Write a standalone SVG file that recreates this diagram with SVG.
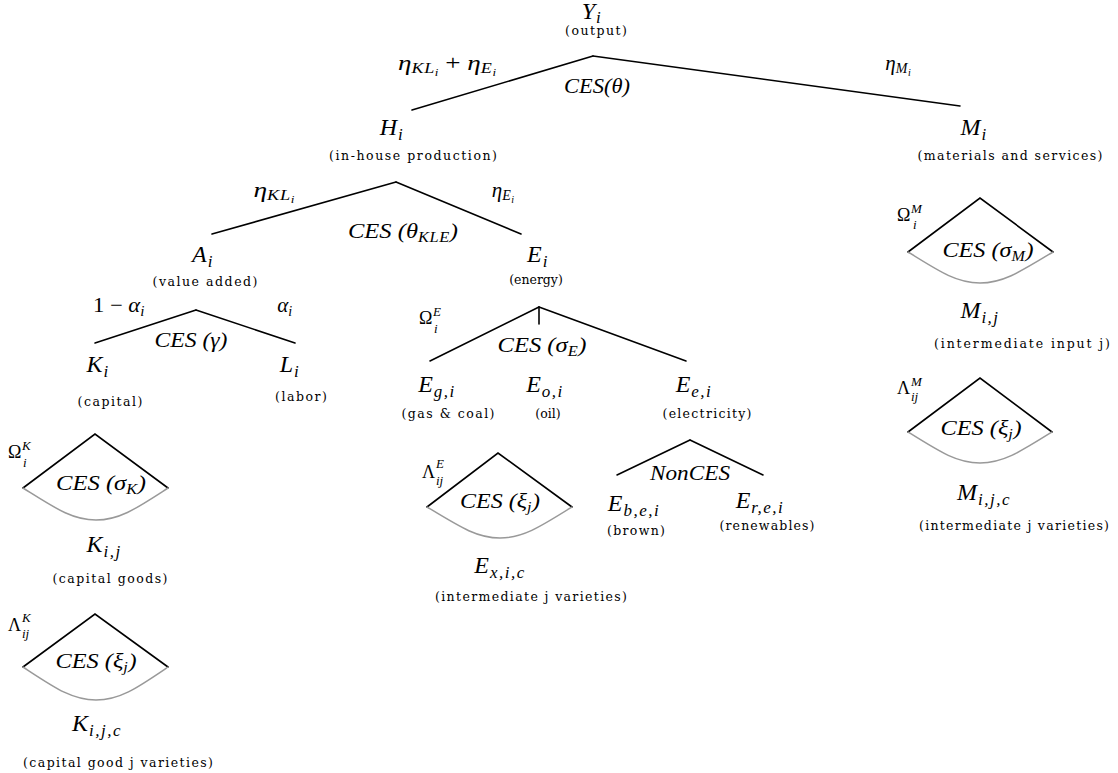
<svg xmlns="http://www.w3.org/2000/svg" width="1118" height="773" viewBox="0 0 1118 773">
<style>
.bg{fill:#fff}
.ln{stroke:#000;stroke-width:1.6;fill:none;stroke-linecap:round}
.cv{stroke:#999;stroke-width:1.5;fill:none}
text{fill:#000}
.m{font-family:"Liberation Serif","DejaVu Serif",serif;font-style:italic}
.n{font-size:24px}
.l{font-size:21px}
.s1{font-size:17px;letter-spacing:1.5px}
.s2{font-size:14px;letter-spacing:0.5px}
.s3{font-size:10px}
.up{font-style:normal}
.t{font-family:"DejaVu Serif","Liberation Serif",serif;font-size:12.5px}
.g{font-family:"Liberation Serif","DejaVu Serif",serif;font-size:18px}
.gs{font-style:italic;font-size:13px}
.c{text-anchor:middle}
</style>
<rect class="bg" x="0" y="0" width="1118" height="773"/>

<g id="connectors">
  <line class="ln" x1="593" y1="56" x2="412" y2="110"/>
  <line class="ln" x1="593" y1="56" x2="960" y2="106"/>
  <line class="ln" x1="396" y1="182" x2="212" y2="234"/>
  <line class="ln" x1="396" y1="182" x2="521" y2="234"/>
  <line class="ln" x1="196" y1="310" x2="95" y2="343"/>
  <line class="ln" x1="196" y1="310" x2="295" y2="343"/>
  <line class="ln" x1="539" y1="307" x2="430" y2="361"/>
  <line class="ln" x1="539" y1="307" x2="539" y2="324"/>
  <line class="ln" x1="539" y1="307" x2="686" y2="361"/>
  <line class="ln" x1="690" y1="440" x2="617" y2="475"/>
  <line class="ln" x1="690" y1="440" x2="763" y2="475"/>
  <path class="ln" d="M23 488 L95 434 L168 488"/>
  <path class="cv" d="M23 488 C55 508 72 520 96 520 C120 520 137 508 168 488"/>
  <path class="ln" d="M23 667 L95 614 L168 667"/>
  <path class="cv" d="M23 667 C55 688 72 700 96 700 C120 700 137 688 168 667"/>
  <path class="ln" d="M427 507 L498 453 L572 507"/>
  <path class="cv" d="M427 507 C460 527 477 538 500 538 C523 538 540 527 572 507"/>
  <path class="ln" d="M908 252 L980 198 L1053 252"/>
  <path class="cv" d="M908 252 C940 272 957 283 980 283 C1003 283 1020 272 1053 252"/>
  <path class="ln" d="M908 432 L980 378 L1052 432"/>
  <path class="cv" d="M908 432 C940 452 957 463 980 463 C1003 463 1020 452 1052 432"/>
</g>

<g id="edge-labels">
  <text class="m l c" x="447" y="70" textLength="98" lengthAdjust="spacingAndGlyphs">η<tspan class="s2" dy="3">KL</tspan><tspan class="s3" dy="3">i</tspan><tspan class="up" dy="-6"> + </tspan>η<tspan class="s2" dy="3">E</tspan><tspan class="s3" dy="3">i</tspan></text>
  <text class="m l c" x="597" y="93" textLength="66" lengthAdjust="spacingAndGlyphs">CES(θ)</text>
  <text class="m l c" x="898" y="70">η<tspan class="s2" dy="3">M</tspan><tspan class="s3" dy="3">i</tspan></text>
  <text class="m l c" x="274" y="197" textLength="41" lengthAdjust="spacingAndGlyphs">η<tspan class="s2" dy="3">KL</tspan><tspan class="s3" dy="3">i</tspan></text>
  <text class="m l c" x="503" y="197">η<tspan class="s2" dy="3">E</tspan><tspan class="s3" dy="3">i</tspan></text>
  <text class="m l c" x="403" y="238" textLength="110" lengthAdjust="spacingAndGlyphs">CES (θ<tspan class="s2" dy="4">KLE</tspan><tspan dy="-4">)</tspan></text>
  <text class="m l c" x="119" y="312" textLength="52" lengthAdjust="spacingAndGlyphs"><tspan class="up">1 − </tspan>α<tspan class="s2" dy="4">i</tspan></text>
  <text class="m l c" x="285" y="312">α<tspan class="s2" dy="4">i</tspan></text>
  <text class="m l c" x="191" y="347" textLength="73" lengthAdjust="spacingAndGlyphs">CES (γ)</text>
  <text class="m l c" x="542" y="352" textLength="89" lengthAdjust="spacingAndGlyphs">CES (σ<tspan class="s2" dy="4">E</tspan><tspan dy="-4">)</tspan></text>
  <text class="m l c" x="690" y="480" textLength="80" lengthAdjust="spacingAndGlyphs">NonCES</text>
</g>

<g id="node-Y">
  <text class="m n c" x="592" y="19">Y<tspan class="s1" dx="1" dy="4">i</tspan></text>
  <text class="t c" x="596" y="35" textLength="62" lengthAdjust="spacing">(output)</text>
</g>
<g id="node-H">
  <text class="m n c" x="392" y="135">H<tspan class="s1" dx="1" dy="5">i</tspan></text>
  <text class="t c" x="413" y="160" textLength="168" lengthAdjust="spacing">(in-house production)</text>
</g>
<g id="node-M">
  <text class="m n c" x="974" y="135">M<tspan class="s1" dx="1" dy="5">i</tspan></text>
  <text class="t c" x="1010" y="160" textLength="185" lengthAdjust="spacing">(materials and services)</text>
</g>
<g id="node-A">
  <text class="m n c" x="203" y="262">A<tspan class="s1" dx="1" dy="5">i</tspan></text>
  <text class="t c" x="205" y="286" textLength="105" lengthAdjust="spacing">(value added)</text>
</g>
<g id="node-E">
  <text class="m n c" x="538" y="262">E<tspan class="s1" dx="1" dy="5">i</tspan></text>
  <text class="t c" x="536" y="284">(energy)</text>
</g>
<g id="node-K">
  <text class="m n c" x="98" y="372">K<tspan class="s1" dx="1" dy="5">i</tspan></text>
  <text class="t c" x="110" y="406" textLength="65" lengthAdjust="spacing">(capital)</text>
</g>
<g id="node-L">
  <text class="m n c" x="290" y="372">L<tspan class="s1" dx="1" dy="5">i</tspan></text>
  <text class="t c" x="301" y="401" textLength="52" lengthAdjust="spacing">(labor)</text>
</g>
<g id="node-Kij">
  <text class="g" x="8" y="458">Ω<tspan class="gs" x="22" y="450">K</tspan><tspan class="gs" x="23" y="467">i</tspan></text>
  <text class="m l c" x="101" y="490" textLength="90" lengthAdjust="spacingAndGlyphs">CES (σ<tspan class="s2" dy="4">K</tspan><tspan dy="-4">)</tspan></text>
  <text class="m n c" x="104" y="552">K<tspan class="s1" dx="1" dy="5">i,j</tspan></text>
  <text class="t c" x="110" y="583" textLength="115" lengthAdjust="spacing">(capital goods)</text>
</g>
<g id="node-Kijc">
  <text class="g" x="8" y="631">Λ<tspan class="gs" x="22" y="622">K</tspan><tspan class="gs" x="22" y="638">ij</tspan></text>
  <text class="m l c" x="96" y="668" textLength="81" lengthAdjust="spacingAndGlyphs">CES (ξ<tspan class="s2" dy="4">j</tspan><tspan dy="-4">)</tspan></text>
  <text class="m n c" x="97" y="731">K<tspan class="s1" dx="1" dy="5">i,j,c</tspan></text>
  <text class="t c" x="118" y="767" textLength="190" lengthAdjust="spacing">(capital good j varieties)</text>
</g>
<g id="node-Eg">
  <text class="g" x="419" y="324">Ω<tspan class="gs" x="433" y="316">E</tspan><tspan class="gs" x="434" y="333">i</tspan></text>
  <text class="m n c" x="437" y="392">E<tspan class="s1" dx="1" dy="5">g,i</tspan></text>
  <text class="t c" x="448" y="418" textLength="93" lengthAdjust="spacing">(gas &amp; coal)</text>
</g>
<g id="node-Eo">
  <text class="m n c" x="545" y="392">E<tspan class="s1" dx="1" dy="5">o,i</tspan></text>
  <text class="t c" x="548" y="418">(oil)</text>
</g>
<g id="node-Ee">
  <text class="m n c" x="694" y="392">E<tspan class="s1" dx="1" dy="5">e,i</tspan></text>
  <text class="t c" x="707" y="418" textLength="89" lengthAdjust="spacing">(electricity)</text>
</g>
<g id="node-Eb">
  <text class="m n c" x="634" y="511">E<tspan class="s1" dx="1" dy="5">b,e,i</tspan></text>
  <text class="t c" x="636" y="535" textLength="58" lengthAdjust="spacing">(brown)</text>
</g>
<g id="node-Er">
  <text class="m n c" x="760" y="508">E<tspan class="s1" dx="1" dy="5">r,e,i</tspan></text>
  <text class="t c" x="767" y="530" textLength="95" lengthAdjust="spacing">(renewables)</text>
</g>
<g id="node-Ex">
  <text class="g" x="422" y="478">Λ<tspan class="gs" x="436" y="468">E</tspan><tspan class="gs" x="436" y="485">ij</tspan></text>
  <text class="m l c" x="500" y="508" textLength="80" lengthAdjust="spacingAndGlyphs">CES (ξ<tspan class="s2" dy="4">j</tspan><tspan dy="-4">)</tspan></text>
  <text class="m n c" x="500" y="573">E<tspan class="s1" dx="1" dy="5">x,i,c</tspan></text>
  <text class="t c" x="531" y="601" textLength="192" lengthAdjust="spacing">(intermediate j varieties)</text>
</g>
<g id="node-Mij">
  <text class="g" x="897" y="221">Ω<tspan class="gs" x="911" y="213">M</tspan><tspan class="gs" x="913" y="229">i</tspan></text>
  <text class="m l c" x="988" y="257" textLength="91" lengthAdjust="spacingAndGlyphs">CES (σ<tspan class="s2" dy="4">M</tspan><tspan dy="-4">)</tspan></text>
  <text class="m n c" x="980" y="318">M<tspan class="s1" dx="1" dy="5">i,j</tspan></text>
  <text class="t c" x="1022" y="348" textLength="176" lengthAdjust="spacing">(intermediate input j)</text>
</g>
<g id="node-Mijc">
  <text class="g" x="897" y="394">Λ<tspan class="gs" x="911" y="386">M</tspan><tspan class="gs" x="911" y="401">ij</tspan></text>
  <text class="m l c" x="981" y="435" textLength="81" lengthAdjust="spacingAndGlyphs">CES (ξ<tspan class="s2" dy="4">j</tspan><tspan dy="-4">)</tspan></text>
  <text class="m n c" x="984" y="500">M<tspan class="s1" dx="1" dy="5">i,j,c</tspan></text>
  <text class="t c" x="1014" y="530" textLength="190" lengthAdjust="spacing">(intermediate j varieties)</text>
</g>
</svg>
